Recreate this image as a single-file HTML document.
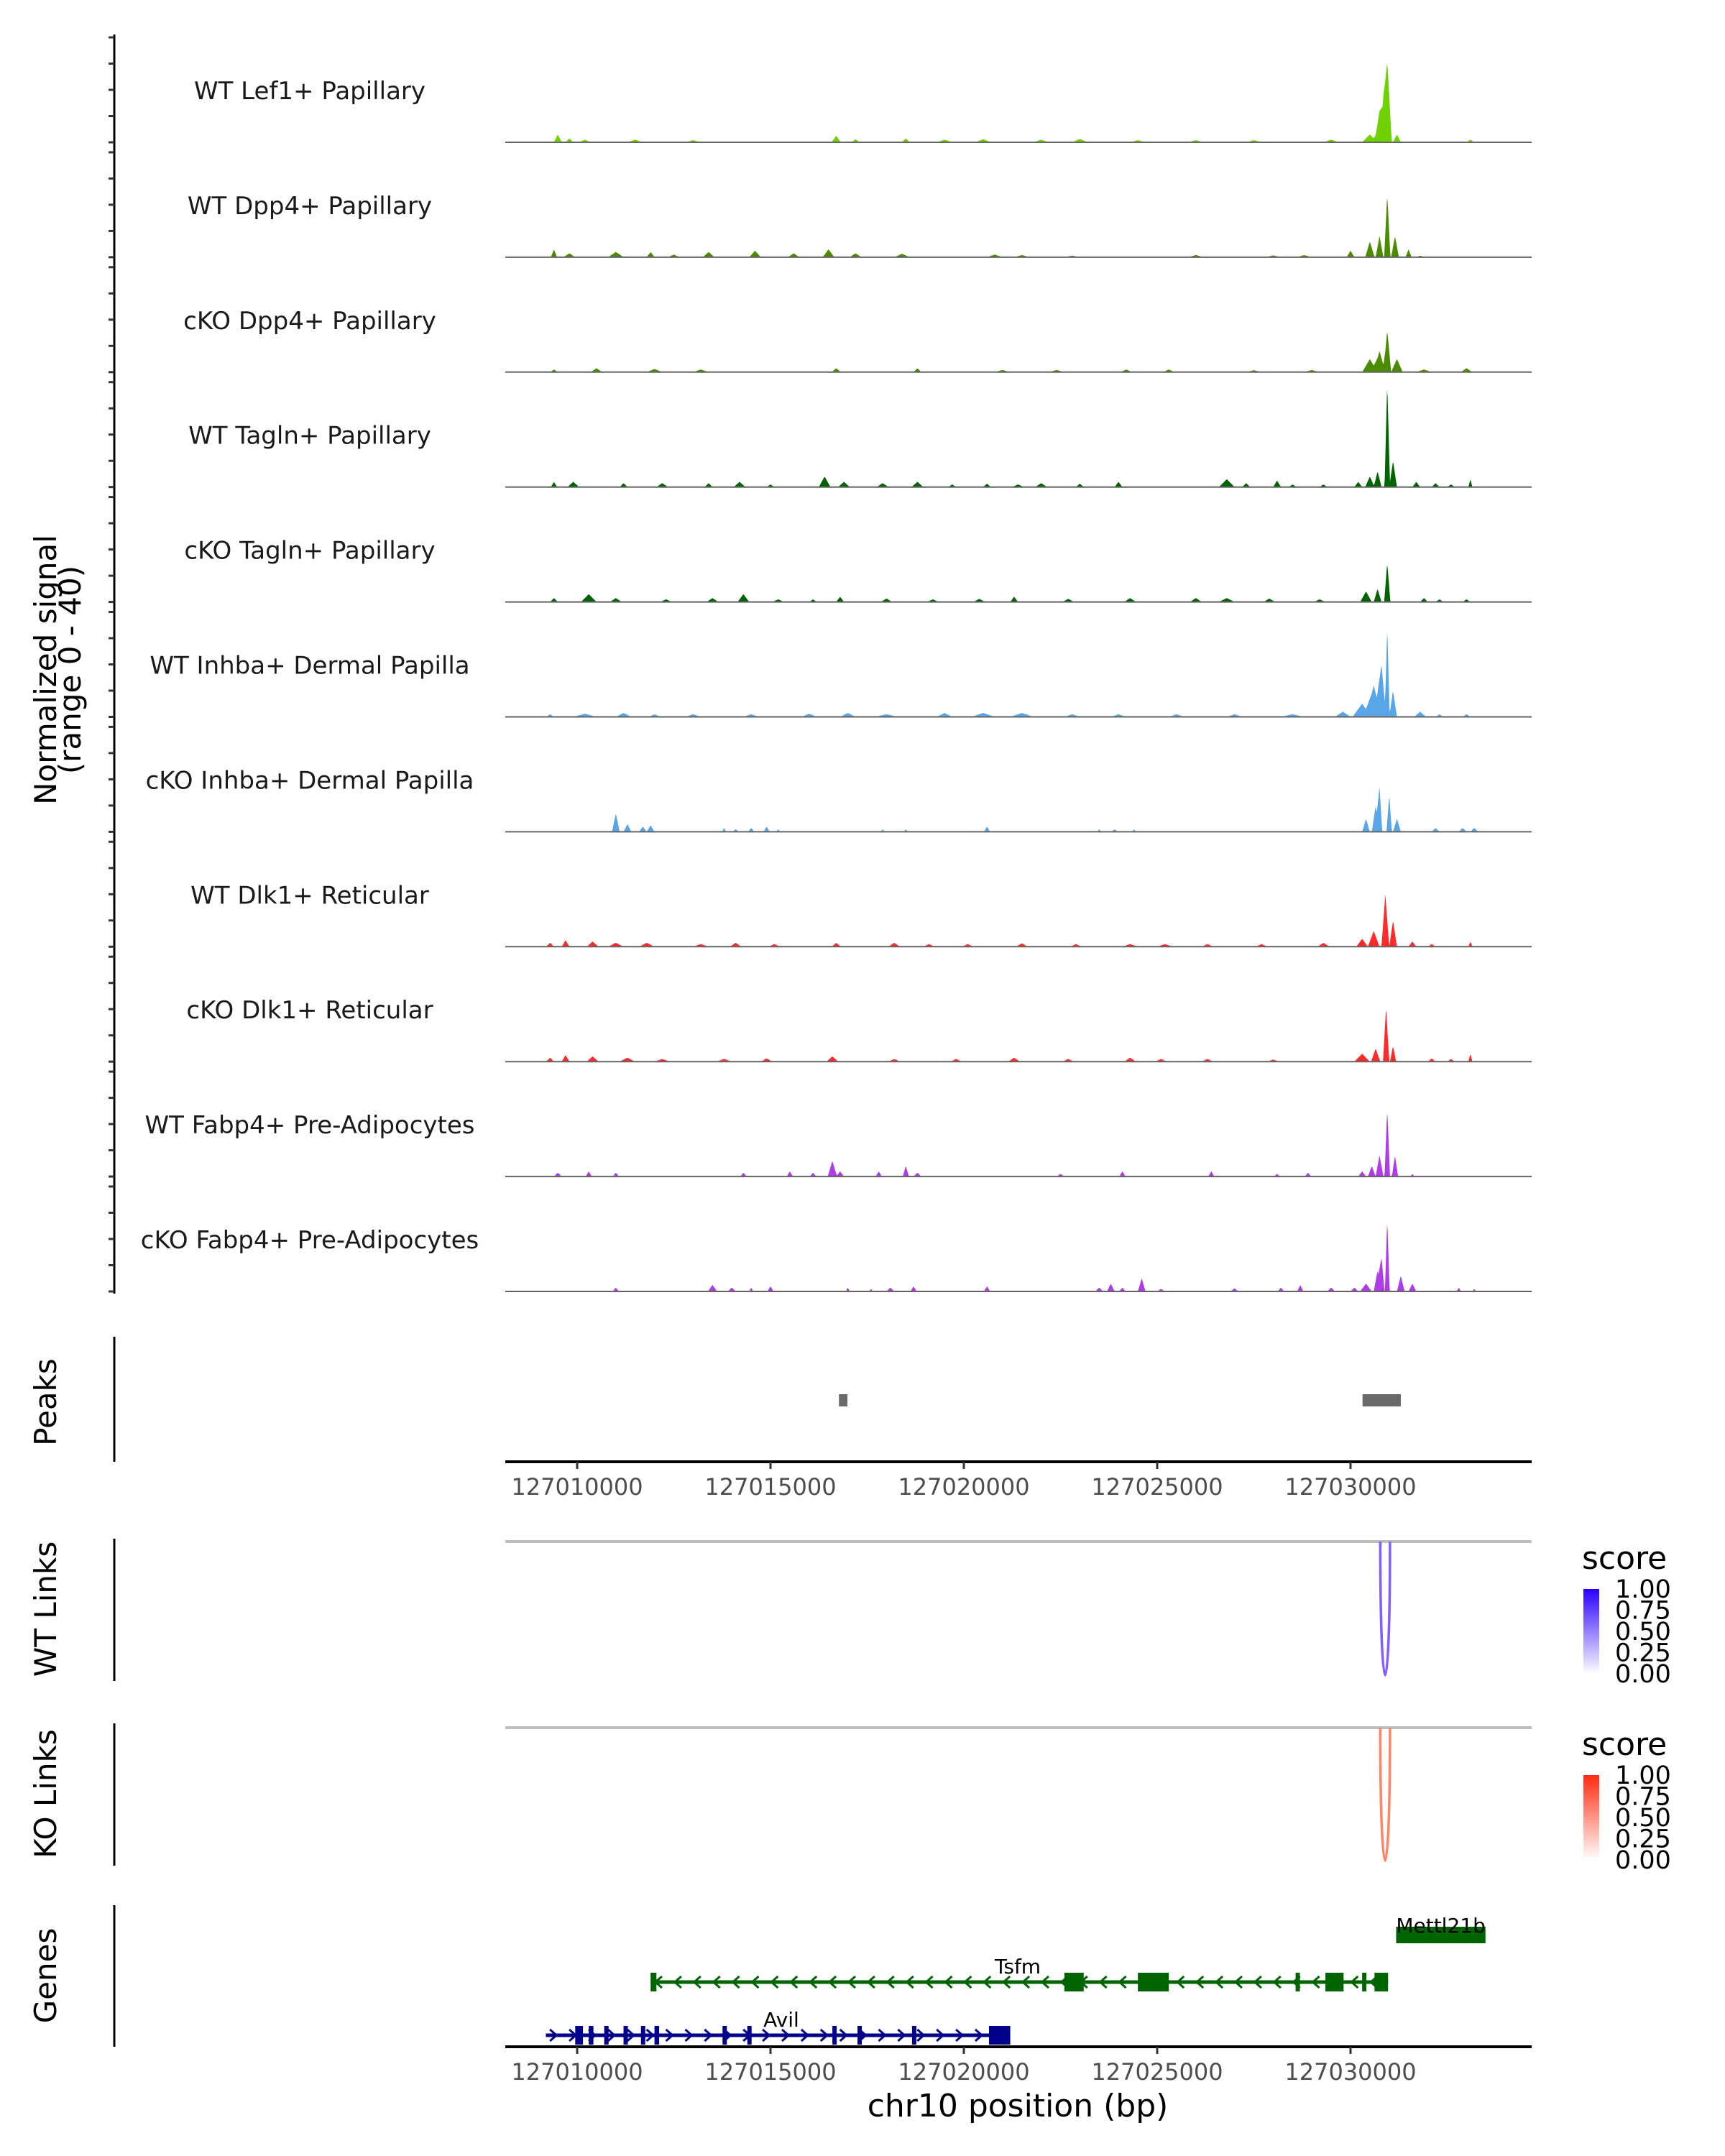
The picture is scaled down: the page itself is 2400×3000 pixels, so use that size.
<!DOCTYPE html>
<html><head><meta charset="utf-8"><style>
html,body{margin:0;padding:0;background:#fff}
svg{display:block;font-family:"DejaVu Sans","Liberation Sans",sans-serif}
</style></head><body>
<svg id="chart" width="2400" height="3000" viewBox="0 0 2400 3000" xmlns="http://www.w3.org/2000/svg">
<g id="tracks"></g>
<g id="lower"></g>
</svg>
<script>
// ---- data ----
const trackNames = ["WT Lef1+ Papillary","WT Dpp4+ Papillary","cKO Dpp4+ Papillary","WT Tagln+ Papillary","cKO Tagln+ Papillary","WT Inhba+ Dermal Papilla","cKO Inhba+ Dermal Papilla","WT Dlk1+ Reticular","cKO Dlk1+ Reticular","WT Fabp4+ Pre-Adipocytes","cKO Fabp4+ Pre-Adipocytes"];
const trackColors = ["#6fd100","#4b8b00","#4b8b00","#006400","#006400","#58a6e8","#58a6e8","#ff2a2a","#ff2a2a","#b03ce8","#b03ce8"];
// peaks: kb offset from 127000000, height (0-40 signal), half-width kb
const peaksLef1 = [[9.5,3,0.1],[9.8,1.5,0.1],[10.2,1,0.15],[11.5,1,0.2],[13,0.8,0.2],[16.7,2.5,0.12],[17.2,1.2,0.1],[18.5,1.5,0.1],[19.5,1,0.2],[20.5,1.2,0.2],[22,1,0.2],[23,1.3,0.2],[24.5,0.8,0.2],[26,0.8,0.2],[27.5,0.8,0.2],[29.5,1,0.2],[30.5,3,0.2],[30.75,6,0.15],[30.95,25,0.12],[30.85,12,0.2],[31.2,3,0.1],[33.1,1,0.1]];
const peaksDpp4 = [[9.4,3,0.08],[9.8,1.5,0.15],[11,2,0.2],[11.9,2,0.1],[12.5,1,0.15],[13.4,2,0.15],[14.6,2.5,0.15],[15.6,1.5,0.15],[16.5,3,0.15],[17.2,1.5,0.15],[18.4,1.3,0.2],[20.8,1,0.2],[21.5,0.8,0.2],[22.8,0.6,0.2],[26,0.8,0.2],[28,0.7,0.2],[28.8,0.8,0.2],[30.0,2.5,0.1],[30.5,6,0.12],[30.75,8,0.1],[30.95,24,0.08],[31.15,8,0.1],[31.5,3,0.08],[31.8,0.6,0.1]];
const peaksCkoDpp4 = [[9.4,1,0.1],[10.5,1.5,0.15],[12,1.2,0.2],[13.2,1,0.2],[16.7,1.5,0.12],[18.8,1.5,0.1],[21,0.8,0.2],[22.4,0.8,0.2],[24.2,1,0.15],[25.3,1,0.15],[27.5,0.7,0.2],[29,0.8,0.2],[30.5,5,0.2],[30.75,8,0.15],[30.95,16,0.1],[31.2,5,0.15],[31.9,1,0.2],[33,1.5,0.15]];
const peaksTagln = [[9.4,2,0.08],[9.9,2,0.15],[11.2,1.5,0.1],[12.2,1.5,0.15],[13.4,1.5,0.1],[14.2,2,0.15],[15,1,0.1],[16.4,4,0.15],[16.9,2,0.15],[17.9,1.5,0.15],[18.8,2,0.15],[19.7,1,0.1],[20.6,1.3,0.1],[21.4,1,0.15],[22,1.5,0.15],[23,1.3,0.1],[24,2,0.1],[26.8,3,0.2],[27.3,1.5,0.1],[28.1,2.5,0.1],[28.5,1,0.1],[29.3,1,0.1],[30.2,2,0.1],[30.5,4,0.12],[30.7,6,0.1],[30.95,40,0.07],[31.1,10,0.1],[31.7,2,0.1],[32.2,1.5,0.1],[32.6,1,0.1],[33.1,3,0.05]];
const peaksCkoTagln = [[9.4,1.5,0.1],[10.3,3,0.2],[11,1.5,0.15],[12.3,1,0.15],[13.5,1.5,0.15],[14.3,3,0.15],[15.2,1,0.15],[16.1,1,0.1],[16.8,2,0.1],[18,1.3,0.15],[19.2,1,0.15],[20.4,1.2,0.15],[21.3,2,0.1],[22.7,1.2,0.15],[24.3,1.5,0.15],[26,1.5,0.15],[26.8,1.5,0.2],[27.9,1.3,0.15],[29.2,1,0.15],[30.4,4,0.15],[30.7,5,0.1],[30.95,15,0.08],[31.9,1.5,0.1],[32.3,1,0.1],[33,1,0.1]];
const peaksInhba = [[9.3,1,0.1],[10.2,1.2,0.3],[11.2,1.5,0.2],[12,1,0.15],[13,1,0.2],[14.5,1,0.2],[16,1.2,0.2],[17,1.5,0.2],[18,1,0.3],[19.5,1.5,0.2],[20.5,1.5,0.3],[21.5,1.5,0.3],[22.8,1,0.2],[24,1,0.2],[25.5,1,0.2],[27,1,0.2],[28.5,1,0.3],[29.8,2,0.2],[30.3,5,0.25],[30.6,12,0.2],[30.8,20,0.12],[30.95,35,0.06],[31.1,10,0.1],[31.8,2,0.15],[32.3,1,0.1],[33,1,0.1]];
const peaksCkoInhba = [[11,7,0.1],[11.3,3,0.1],[11.7,2,0.1],[11.9,2.5,0.1],[13.8,1.5,0.05],[14.1,1,0.08],[14.5,1.5,0.08],[14.9,2,0.08],[15.2,1,0.05],[17.9,1,0.05],[18.5,1,0.05],[20.6,2,0.08],[23.5,1,0.05],[23.9,1,0.08],[24.4,1,0.05],[30.4,5,0.1],[30.65,10,0.1],[30.75,17,0.07],[31.0,14,0.07],[31.2,5,0.1],[32.2,1.5,0.1],[32.9,1.5,0.1],[33.2,1.5,0.1]];
const peaksDlk1 = [[9.3,1.5,0.1],[9.7,2.5,0.1],[10.4,2,0.15],[11,1.5,0.2],[11.8,1.5,0.2],[13.2,1,0.2],[14.1,1.5,0.15],[15.1,1,0.15],[16.7,1.5,0.12],[18.2,1.5,0.15],[19.1,1,0.15],[20.1,1,0.15],[21.5,1.3,0.15],[22.9,1,0.15],[24.3,1,0.2],[25.2,1,0.2],[26.3,1,0.15],[27.7,1,0.15],[29.3,1.5,0.15],[30.3,3,0.15],[30.6,6,0.15],[30.9,20,0.1],[31.1,10,0.1],[31.6,2,0.1],[32.1,1,0.1],[33.1,2,0.05]];
const peaksCkoDlk1 = [[9.3,1.5,0.1],[9.7,2.5,0.1],[10.4,2,0.15],[11.3,1.5,0.2],[12.2,1,0.2],[13.8,1,0.2],[14.9,1.2,0.15],[16.6,2,0.15],[18.2,1,0.15],[19.8,1,0.15],[21.3,1.5,0.15],[22.7,1,0.15],[24.3,1.5,0.15],[25.1,1,0.15],[26.3,1,0.15],[28,0.8,0.15],[30.3,3,0.2],[30.65,5,0.12],[30.92,21,0.08],[31.1,6,0.08],[32.1,1.2,0.1],[32.6,1,0.1],[33.1,3,0.05]];
const peaksFabp4 = [[9.5,1.5,0.1],[10.3,2,0.08],[11,1.5,0.08],[14.3,1.5,0.08],[15.5,2,0.08],[16.1,1.5,0.08],[16.6,6,0.12],[16.8,2,0.1],[17.8,2,0.08],[18.5,4,0.08],[18.8,1.5,0.1],[22.5,1,0.1],[24.1,2,0.08],[26.4,2,0.08],[28.1,1,0.08],[28.9,1.5,0.08],[30.3,2,0.1],[30.55,4,0.1],[30.75,8,0.1],[30.95,26,0.07],[31.15,8,0.08],[31.6,1,0.05]];
const peaksCkoFabp4 = [[11,1.5,0.08],[13.5,2.5,0.12],[14,1.5,0.1],[14.5,1.5,0.05],[15,2,0.08],[17,1.5,0.05],[17.6,1,0.05],[18.1,1.5,0.1],[18.7,2,0.08],[20.6,2,0.08],[23.5,1.5,0.1],[23.8,3,0.1],[24.1,1.5,0.08],[24.6,5,0.1],[25.1,1,0.1],[27,1.2,0.1],[28.2,1.5,0.08],[28.7,2.5,0.08],[29.5,1.5,0.1],[30.1,1.5,0.1],[30.4,3,0.15],[30.7,8,0.1],[30.8,13,0.08],[30.95,28,0.06],[31.3,6,0.1],[31.6,3,0.1],[32.8,1.5,0.06],[33.2,1,0.05]];
const trackPeaks = [peaksLef1,peaksDpp4,peaksCkoDpp4,peaksTagln,peaksCkoTagln,peaksInhba,peaksCkoInhba,peaksDlk1,peaksCkoDlk1,peaksFabp4,peaksCkoFabp4];
const peakRegions = [[16.77,16.99],[30.31,31.30]];
const tickKb = [10,15,20,25,30];
const tickLabels = ["127010000","127015000","127020000","127025000","127030000"];
const linkWT = [30.77,31.02,0.8];
const linkKO = [30.77,31.02,0.7];
const legendLabels = ["1.00","0.75","0.50","0.25","0.00"];
// genes
const avilSpan = [9.19,21.2];
const avilExons = [[9.95,10.15],[10.3,10.42],[10.7,10.8],[11.2,11.3],[11.65,11.75],[12.0,12.12],[13.76,13.86],[14.4,14.5],[16.6,16.7],[17.25,17.32],[18.66,18.74],[20.65,21.2]];
const tsfmSpan = [11.9,30.97];
const tsfmExons = [[11.9,12.05],[22.6,23.1],[24.5,25.3],[28.58,28.66],[29.35,29.82],[30.3,30.38],[30.62,30.97]];
const mettlSpan = [31.18,33.49];

// ---- scales ----
const X0=803, PXKB=53.8, XL=703, XR=2131;
const x = kb => X0 + (kb-10)*PXKB;
const TRACK_B0=198, TRACK_STEP=159.9, TRACK_H=146;
const yv = (i,v) => TRACK_B0 + i*TRACK_STEP - v/40*TRACK_H;
const NS="http://www.w3.org/2000/svg";
function mk(parent, tag, attrs, text){const e=document.createElementNS(NS,tag);for(const k in attrs)e.setAttribute(k,attrs[k]);if(text!==undefined)e.textContent=text;parent.appendChild(e);return e;}
const T=document.getElementById('tracks'), L=document.getElementById('lower');

// left axis
let ax=mk(T,'line',{x1:159,y1:48,x2:159,y2:1800,stroke:'#000','stroke-width':3});


for(let i=0;i<trackNames.length;i++){
  for(let k=0;k<=4;k++){
    let t=mk(T,'line',{x1:151,x2:159,y1:yv(i,k*10),y2:yv(i,k*10),stroke:'#333','stroke-width':3});
    
    
  }
}
let yt=mk(T,'text',{x:0,y:0,'font-size':42,'text-anchor':'middle',fill:'#000',transform:'translate(78,932) rotate(-90)'},'Normalized signal');


let yt2=mk(T,'text',{x:0,y:0,'font-size':42,'text-anchor':'middle',fill:'#000',transform:'translate(112,932) rotate(-90)'},'(range 0 - 40)');



// tracks
for(let i=0;i<trackNames.length;i++){
  const pk=trackPeaks[i];
  let pts=[];
  for(let kb=9.0;kb<=33.6;kb+=0.015){
    let v=0;
    for(const p of pk){const d=Math.abs(kb-p[0]);if(d<p[2])v+=p[1]*(1-d/p[2]);}
    v=Math.min(v,40);
    pts.push(x(kb).toFixed(1)+','+yv(i,v).toFixed(1));
  }
  const base=yv(i,0);
  let poly=mk(T,'polygon',{points:x(9.0)+','+base+' '+pts.join(' ')+' '+x(33.6)+','+base,fill:trackColors[i]});
  
  
  let bl=mk(T,'line',{x1:XL,x2:XR,y1:base,y2:base,stroke:'#666','stroke-width':2});
  
  
  let lb=mk(T,'text',{x:431,y:base-60,'font-size':34,'text-anchor':'middle',fill:'#1a1a1a'},trackNames[i]);
  
  
}

function sectionAxis(y1,y2,title,ty,name){
  let a=mk(L,'line',{x1:159,x2:159,y1:y1,y2:y2,stroke:'#000','stroke-width':3});
  
  
  let t=mk(L,'text',{x:0,y:0,'font-size':42,'text-anchor':'middle',fill:'#000',transform:`translate(78,${ty}) rotate(-90)`},title);
  
  
}
function xAxis(y,name){
  let a=mk(L,'line',{x1:XL,x2:XR,y1:y,y2:y,stroke:'#000','stroke-width':4});
  
  
  tickKb.forEach((kb,j)=>{
    let t=mk(L,'line',{x1:x(kb),x2:x(kb),y1:y,y2:y+10,stroke:'#333','stroke-width':3});
    
    
    let tl=mk(L,'text',{x:x(kb),y:y+46,'font-size':32,'text-anchor':'middle',fill:'#4d4d4d'},tickLabels[j]);
    
    
  });
}
// peaks
sectionAxis(1860,2034,'Peaks',1951,'peaks');
peakRegions.forEach(r=>{
  let rc=mk(L,'rect',{x:x(r[0]),y:1940,width:x(r[1])-x(r[0]),height:17,fill:'#696969'});
  
  
});
xAxis(2034,'peaks-x-axis');

// links
function links(top,bottom,lineY,dipY,link,title,ty,name,c1,c0,col){
  sectionAxis(top,bottom,title,ty,name);
  let g=mk(L,'line',{x1:XL,x2:XR,y1:lineY,y2:lineY,stroke:'#bebebe','stroke-width':4});
  
  
  const xa=x(link[0]), xb=x(link[1]);
  const depth=(dipY-lineY)*4/3;
  let p=mk(L,'path',{d:`M${xa},${lineY} C${xa},${lineY+depth} ${xb},${lineY+depth} ${xb},${lineY}`,fill:'none',stroke:col,'stroke-width':3.5});
  
  
  const id='grad-'+name;
  const d=mk(L,'defs',{});
  const lg=mk(d,'linearGradient',{id:id,x1:0,y1:0,x2:0,y2:1});
  mk(lg,'stop',{offset:'0','stop-color':c1});
  mk(lg,'stop',{offset:'1','stop-color':c0});
  let st=mk(L,'text',{x:2201,y:lineY+38,'font-size':44,fill:'#000'},'score');
  
  
  const by=lineY+66, bh=118;
  let bar=mk(L,'rect',{x:2203,y:by,width:22,height:bh,fill:`url(#${id})`});
  
  
  legendLabels.forEach((s,j)=>{
    let t=mk(L,'text',{x:2247,y:by+j*bh/4+12,'font-size':35,fill:'#000'},s);
    
    
  });
}
links(2141,2339,2145,2331,linkWT,'WT Links',2239,'wt-links','#2a00ff','#ffffff','#8060ff');
links(2398,2596,2404,2589,linkKO,'KO Links',2496,'ko-links','#ff2a10','#ffffff','#ff8468');

// genes
sectionAxis(2651,2848,'Genes',2749,'genes');
function gene(span,exons,y,col,dir,label,lx,name){
  let ln=mk(L,'line',{x1:x(span[0]),x2:x(span[1]),y1:y,y2:y,stroke:col,'stroke-width':5});
  
  
  for(let kb=span[0]+0.2;kb<span[1]-0.1;kb+=0.5){
    const cx=x(kb);
    let a=mk(L,'polyline',{points:dir>0?`${cx-5},${y-8} ${cx+4},${y} ${cx-5},${y+8}`:`${cx+5},${y-8} ${cx-4},${y} ${cx+5},${y+8}`,fill:'none',stroke:col,'stroke-width':3});
    
    
  }
  exons.forEach(e=>{
    let r=mk(L,'rect',{x:x(e[0]),y:y-13,width:Math.max(6,x(e[1])-x(e[0])),height:26,fill:col});
    
    
  });
  let t=mk(L,'text',{x:lx,y:y-12,'font-size':28,'text-anchor':'middle',fill:'#000'},label);
  
  
}
gene(avilSpan,avilExons,2832,'#00008b',1,'Avil',1087,'avil');
gene(tsfmSpan,tsfmExons,2758,'#006400',-1,'Tsfm',1416,'tsfm');
let mr=mk(L,'rect',{x:x(mettlSpan[0]),y:2681,width:x(mettlSpan[1])-x(mettlSpan[0]),height:23,fill:'#006400'});


let mt=mk(L,'text',{x:(x(mettlSpan[0])+x(mettlSpan[1]))/2,y:2689,'font-size':28,'text-anchor':'middle',fill:'#000'},'Mettl21b');


xAxis(2848,'genes-x-axis');
let xt=mk(L,'text',{x:1416,y:2945,'font-size':44,'text-anchor':'middle',fill:'#000'},'chr10 position (bp)');


</script>
</body></html>
